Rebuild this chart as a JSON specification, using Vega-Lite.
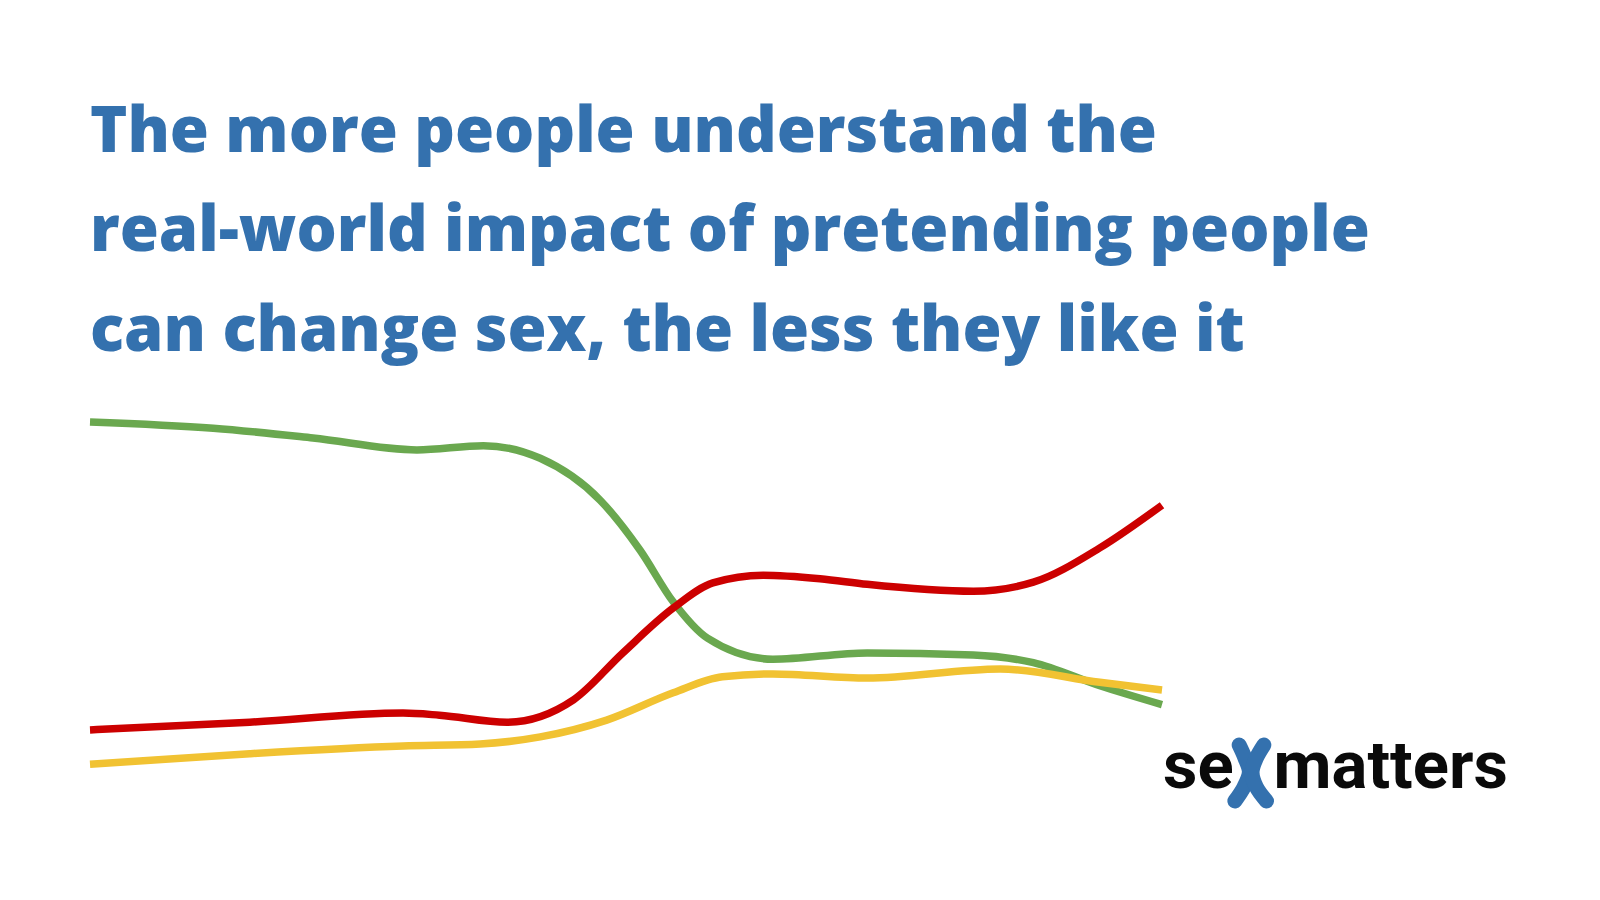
{
  "$schema": "https://vega.github.io/schema/vega-lite/v6.json",
  "width": 1072,
  "height": 455,
  "autosize": {"type": "none"},
  "padding": {"left": 90, "top": 375, "right": 438, "bottom": 70},
  "background": "white",
  "config": {"view": {"stroke": null}},
  "title": {
    "text": ["The more people understand the", "real-world impact of pretending people", "can change sex, the less they like it"],
    "anchor": "start",
    "frame": "group",
    "font": "Open Sans",
    "fontSize": 63.3,
    "fontWeight": 800,
    "color": "#3471ae",
    "lineHeight": 99.5,
    "offset": 11
  },
  "datasets": {
    "series": [
      {"series": "support", "t": 0, "value": 58.3},
      {"series": "support", "t": 11.5, "value": 57.4},
      {"series": "support", "t": 20.8, "value": 56.0},
      {"series": "support", "t": 30.5, "value": 54.3},
      {"series": "support", "t": 36.7, "value": 54.9},
      {"series": "support", "t": 42.0, "value": 53.1},
      {"series": "support", "t": 47.6, "value": 47.1},
      {"series": "support", "t": 51.3, "value": 40.0},
      {"series": "support", "t": 54.4, "value": 32.6},
      {"series": "support", "t": 57.6, "value": 27.4},
      {"series": "support", "t": 63.7, "value": 24.4},
      {"series": "support", "t": 72.5, "value": 25.3},
      {"series": "support", "t": 82.4, "value": 25.0},
      {"series": "support", "t": 88.0, "value": 23.9},
      {"series": "support", "t": 94.2, "value": 20.6},
      {"series": "support", "t": 100, "value": 17.9},
      {"series": "unsure", "t": 0, "value": 9.4},
      {"series": "unsure", "t": 14.9, "value": 10.9},
      {"series": "unsure", "t": 29.2, "value": 12.0},
      {"series": "unsure", "t": 36.4, "value": 12.3},
      {"series": "unsure", "t": 42.0, "value": 13.3},
      {"series": "unsure", "t": 48.2, "value": 15.7},
      {"series": "unsure", "t": 54.4, "value": 19.6},
      {"series": "unsure", "t": 59.0, "value": 21.9},
      {"series": "unsure", "t": 63.7, "value": 22.3},
      {"series": "unsure", "t": 72.5, "value": 21.7},
      {"series": "unsure", "t": 84.9, "value": 23.0},
      {"series": "unsure", "t": 94.2, "value": 21.1},
      {"series": "unsure", "t": 100, "value": 20.0},
      {"series": "oppose", "t": 0, "value": 14.3},
      {"series": "oppose", "t": 14.9, "value": 15.4},
      {"series": "oppose", "t": 29.2, "value": 16.7},
      {"series": "oppose", "t": 32.6, "value": 16.4},
      {"series": "oppose", "t": 38.9, "value": 15.4},
      {"series": "oppose", "t": 45.1, "value": 18.6},
      {"series": "oppose", "t": 49.7, "value": 25.3},
      {"series": "oppose", "t": 54.4, "value": 31.7},
      {"series": "oppose", "t": 58.1, "value": 35.3},
      {"series": "oppose", "t": 62.8, "value": 36.4},
      {"series": "oppose", "t": 68.1, "value": 35.9},
      {"series": "oppose", "t": 72.5, "value": 35.1},
      {"series": "oppose", "t": 82.4, "value": 34.1},
      {"series": "oppose", "t": 88.0, "value": 35.4},
      {"series": "oppose", "t": 94.2, "value": 40.3},
      {"series": "oppose", "t": 100, "value": 46.4}
    ],
    "logoText": [
      {"label": "se", "t": 100.1, "value": 6.0},
      {"label": "matters", "t": 110.4, "value": 6.0}
    ],
    "logoMark": [
      {"arm": "left", "ord": 1, "t": 107.2, "value": 12.14},
      {"arm": "left", "ord": 2, "t": 107.74, "value": 10.29},
      {"arm": "left", "ord": 3, "t": 108.15, "value": 8.29},
      {"arm": "left", "ord": 4, "t": 107.65, "value": 6.14},
      {"arm": "left", "ord": 5, "t": 106.8, "value": 4.14},
      {"arm": "right", "ord": 1, "t": 109.5, "value": 12.14},
      {"arm": "right", "ord": 2, "t": 108.8, "value": 10.29},
      {"arm": "right", "ord": 3, "t": 108.4, "value": 8.29},
      {"arm": "right", "ord": 4, "t": 108.8, "value": 6.14},
      {"arm": "right", "ord": 5, "t": 109.75, "value": 4.14}
    ]
  },
  "layer": [
    {
      "data": {"name": "series"},
      "mark": {"type": "line", "interpolate": "monotone", "strokeWidth": 7.5},
      "encoding": {
        "x": {"field": "t", "type": "quantitative", "scale": {"domain": [0, 100]}, "axis": null},
        "y": {"field": "value", "type": "quantitative", "scale": {"domain": [0, 65]}, "axis": null},
        "color": {
          "field": "series", "type": "nominal",
          "scale": {"domain": ["support", "unsure", "oppose"], "range": ["#6aa84f", "#f1c232", "#cc0000"]},
          "legend": null
        }
      }
    },
    {
      "data": {"name": "logoMark"},
      "mark": {"type": "line", "interpolate": "catmull-rom", "strokeWidth": 15, "strokeCap": "round", "color": "#3471ae"},
      "encoding": {
        "x": {"field": "t", "type": "quantitative"},
        "y": {"field": "value", "type": "quantitative"},
        "detail": {"field": "arm"},
        "order": {"field": "ord"}
      }
    },
    {
      "data": {"name": "logoText"},
      "mark": {"type": "text", "align": "left", "baseline": "alphabetic", "font": "Roboto", "fontWeight": "bold", "fontSize": 67, "color": "#0a0a0a"},
      "encoding": {
        "x": {"field": "t", "type": "quantitative"},
        "y": {"field": "value", "type": "quantitative"},
        "text": {"field": "label"}
      }
    }
  ]
}
